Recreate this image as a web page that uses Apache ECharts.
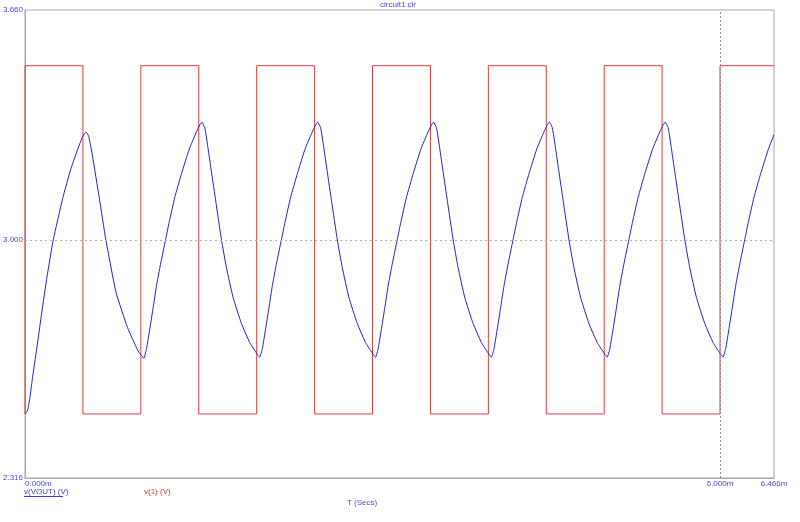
<!DOCTYPE html>
<html><head><meta charset="utf-8">
<script src="https://cdn.jsdelivr.net/npm/echarts@6/dist/echarts.min.js"></script>
<style>html,body{margin:0;padding:0;background:#fff}#c{width:800px;height:522px}</style>
</head><body><div id="c"></div>
<script>
// v(VOUT) (time in ms, volts)
const voutTime = [
  0.000,0.023,0.043,0.066,0.109,0.144,0.190,0.244,0.325,0.397,0.468,0.500,0.526,0.550,0.583,0.641,0.698,0.785,0.885,0.971,1.000,1.026,
  1.049,1.078,1.106,1.135,1.170,1.213,1.244,1.293,1.351,1.417,1.480,1.509,1.526,1.552,1.580,1.609,1.647,1.696,1.739,1.796,1.868,1.940,2.000,2.026,
  2.049,2.078,2.106,2.135,2.170,2.213,2.244,2.293,2.351,2.417,2.480,2.509,2.526,2.552,2.580,2.609,2.647,2.696,2.739,2.796,2.868,2.940,3.000,3.026,
  3.049,3.078,3.106,3.135,3.170,3.213,3.244,3.293,3.351,3.417,3.480,3.509,3.526,3.552,3.580,3.609,3.647,3.696,3.739,3.796,3.868,3.940,4.000,4.026,
  4.049,4.078,4.106,4.135,4.170,4.213,4.244,4.293,4.351,4.417,4.480,4.509,4.526,4.552,4.580,4.609,4.647,4.696,4.739,4.796,4.868,4.940,5.000,5.026,
  5.049,5.078,5.106,5.135,5.170,5.213,5.244,5.293,5.351,5.417,5.480,5.509,5.526,5.552,5.580,5.609,5.647,5.696,5.739,5.796,5.868,5.940,6.000,6.026,
  6.049,6.078,6.106,6.135,6.170,6.213,6.244,6.293,6.351,6.417,6.466
];
const voutVolts = [
  2.500,2.511,2.549,2.607,2.706,2.790,2.894,3.000,3.119,3.205,3.272,3.298,3.310,3.297,3.240,3.120,3.000,2.850,2.748,2.684,2.670,2.660,
  2.688,2.746,2.805,2.868,2.930,3.000,3.050,3.122,3.190,3.260,3.310,3.330,3.338,3.322,3.263,3.196,3.110,3.000,2.920,2.835,2.760,2.705,2.674,2.663,
  2.688,2.746,2.805,2.868,2.930,3.000,3.050,3.122,3.190,3.260,3.310,3.330,3.338,3.322,3.263,3.196,3.110,3.000,2.920,2.835,2.760,2.705,2.674,2.663,
  2.688,2.746,2.805,2.868,2.930,3.000,3.050,3.122,3.190,3.260,3.310,3.330,3.338,3.322,3.263,3.196,3.110,3.000,2.920,2.835,2.760,2.705,2.674,2.663,
  2.688,2.746,2.805,2.868,2.930,3.000,3.050,3.122,3.190,3.260,3.310,3.330,3.338,3.322,3.263,3.196,3.110,3.000,2.920,2.835,2.760,2.705,2.674,2.663,
  2.688,2.746,2.805,2.868,2.930,3.000,3.050,3.122,3.190,3.260,3.310,3.330,3.338,3.322,3.263,3.196,3.110,3.000,2.920,2.835,2.760,2.705,2.674,2.663,
  2.688,2.746,2.805,2.868,2.930,3.000,3.050,3.122,3.190,3.260,3.302
];
// v(1) square source: level starting at each time
const srcTime  = [0,0,0.5,1,1.5,2,2.5,3,3.5,4,4.5,5,5.5,6,6.466];
const srcVolts = [2.5,3.5,2.5,3.5,2.5,3.5,2.5,3.5,2.5,3.5,2.5,3.5,2.5,3.5,3.5];
const yTickValues = [2.316, 3.000, 3.660];
const xTickValues = [0, 6.000, 6.466];
const cursorTime = 6.000;
const refVolts = 3.000;

const BLUE_TXT = '#4848d6';
const RED = '#e23a3a';
const GRAY = '#a8a8a8';
const FONT = 'Liberation Sans';

const chart = echarts.init(document.getElementById('c'));
chart.setOption({
  animation: false,
  backgroundColor: '#fff',
  title: {
    text: 'circuit1.cir', left: 398, top: 1, textAlign: 'center', padding: 0,
    textStyle: {color: BLUE_TXT, fontSize: 8, fontWeight: 'normal', fontFamily: FONT}
  },
  grid: {left: 24, right: 26, top: 10, bottom: 44, show: true, borderColor: GRAY, borderWidth: 1, containLabel: false},
  xAxis: {
    type: 'value', min: 0, max: 6.466,
    axisLine: {show: true, lineStyle: {color: GRAY, width: 1}},
    axisTick: {show: false},
    splitLine: {show: false},
    axisLabel: {
      customValues: xTickValues, margin: 2, color: BLUE_TXT, fontSize: 8, fontFamily: FONT,
      alignMinLabel: 'left',
      formatter: v => v.toFixed(3) + 'm'
    }
  },
  yAxis: {
    type: 'value', min: 2.316, max: 3.660,
    axisLine: {show: true, lineStyle: {color: GRAY, width: 1}},
    axisTick: {show: false},
    splitLine: {show: false},
    axisLabel: {
      customValues: yTickValues, margin: 2, color: BLUE_TXT, fontSize: 8, fontFamily: FONT,
      formatter: v => v.toFixed(3)
    }
  },
  graphic: [
    {type: 'text', left: 24, top: 488, style: {text: 'v(VOUT) (V)', fill: '#3a3ad0', fontSize: 8, fontFamily: FONT}},
    {type: 'line', shape: {x1: 24, y1: 496.5, x2: 63, y2: 496.5}, style: {stroke: '#3a3ad0', lineWidth: 1}},
    {type: 'text', left: 144, top: 488, style: {text: 'v(1) (V)', fill: RED, fontSize: 8, fontFamily: FONT}},
    {type: 'text', left: 347, top: 499, style: {text: 'T (Secs)', fill: BLUE_TXT, fontSize: 8, fontFamily: FONT}}
  ],
  series: [
    {
      name: 'v(1) (V)', type: 'line', step: 'end', symbol: 'none',
      lineStyle: {color: RED, width: 1},
      data: srcTime.map((t, i) => [t, srcVolts[i]]),
      markLine: {
        silent: true, symbol: 'none', label: {show: false},
        lineStyle: {color: '#909090', type: [2, 2], width: 1},
        data: [{xAxis: cursorTime}]
      },
      z: 2
    },
    {
      name: 'v(VOUT) (V)', type: 'line', symbol: 'none', smooth: 0.15,
      lineStyle: {color: '#2222c8', width: 1},
      data: voutTime.map((t, i) => [t, voutVolts[i]]),
      markLine: {
        silent: true, symbol: 'none', label: {show: false},
        lineStyle: {color: '#b0b0b0', type: [2, 3], width: 1},
        data: [{yAxis: refVolts}]
      },
      z: 3
    }
  ]
});
</script>
</body></html>
